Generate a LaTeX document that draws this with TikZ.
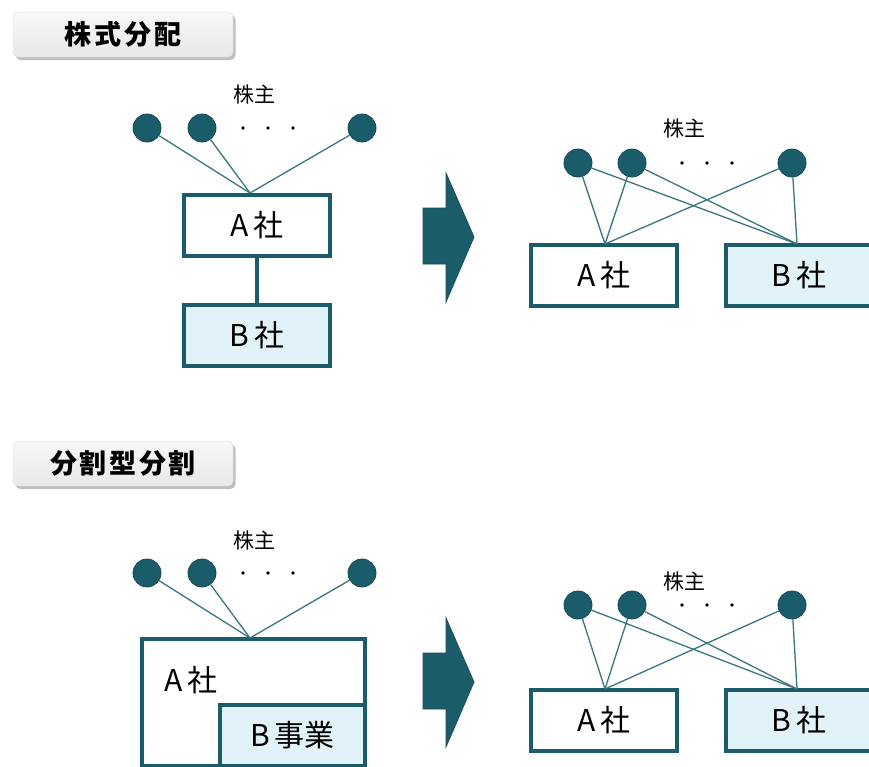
\documentclass[tikz,border=0pt]{standalone}
\usepackage{fontspec}
\setmainfont{Noto Sans CJK JP}
\usetikzlibrary{shadows,calc}
\definecolor{tealdk}{HTML}{1B5C6B}
\definecolor{tealln}{HTML}{3C7582}
\definecolor{lblue}{HTML}{E1F2F8}
\newcommand{\gp}{\hspace{5pt}}
\begin{document}
\begin{tikzpicture}[x=1pt,y=-1pt,
  holder/.style={circle, fill=tealdk, draw=tealdk!80!black, line width=0.8pt, minimum size=28pt, inner sep=0pt},
  dotm/.style={circle, fill=black, minimum size=3.8pt, inner sep=0pt},
  cobox/.style={draw=tealdk, line width=4pt, fill=white, minimum width=146pt, minimum height=61pt, inner sep=0pt, font=\fontsize{30}{31}\selectfont},
  subbox/.style={cobox, fill=lblue},
  link/.style={draw=tealln, line width=1.3pt},
  bond/.style={draw=tealdk, line width=4pt},
  hold/.style={font=\fontsize{21}{23}\selectfont, inner sep=0pt},
  ttl/.style={rectangle, rounded corners=5pt, top color=white!97!black, bottom color=white!91!black, draw=white!88!black, line width=0.4pt,
    drop shadow={shadow xshift=2.5pt, shadow yshift=-3pt, fill=black!45, opacity=0.55},
    minimum width=220pt, minimum height=45pt, inner sep=0pt,
    font=\fontsize{27}{28}\selectfont\bfseries\addfontfeature{LetterSpace=10}},
  bigarrow/.style={fill=tealdk, draw=tealdk!85!black, line width=0.8pt, line join=miter}
]
\useasboundingbox (0,0) rectangle (869,766);
\clip (0,0) rectangle (869,766);
\fill[white] (0,0) rectangle (869,766);

% ---------- titles ----------
\node[ttl] (t1) at (123,34.5) {株式分配};
\node[ttl] (t2) at (123,463.5) {分割型分割};

% ---------- arrows ----------
\path[bigarrow] (423,208) -- (446,208) -- (446,173) -- (474,237) -- (446,302) -- (446,264) -- (423,264) -- cycle;
\path[bigarrow] (423,653) -- (446,653) -- (446,618) -- (474,682) -- (446,747) -- (446,709) -- (423,709) -- cycle;

% ---------- top left ----------
\node[hold] (k1) at (254,95) {株主};
\node[holder] (h11) at (147,128) {};
\node[holder] (h12) at (202,128) {};
\node[holder] (h13) at (362,128) {};
\node[dotm] (d11) at (243,128) {};
\node[dotm] (d12) at (268,128) {};
\node[dotm] (d13) at (293,128) {};
\node[cobox] (A1) at (257,225) {A\gp 社};
\node[subbox] (B1) at (257,335) {B\gp 社};
\coordinate (c1) at (250,193);
\draw[link] (h11) -- (c1);
\draw[link] (h12) -- (c1);
\draw[link] (h13) -- (c1);
\draw[bond] (A1.south) -- (B1.north);

% ---------- top right ----------
\node[hold] (k2) at (684,129) {株主};
\node[holder] (h21) at (578,163) {};
\node[holder] (h22) at (632,163) {};
\node[holder] (h23) at (792,163) {};
\node[dotm] (d21) at (682,163) {};
\node[dotm] (d22) at (707,163) {};
\node[dotm] (d23) at (732,163) {};
\node[cobox] (A2) at (604,275.5) {A\gp 社};
\node[subbox] (B2) at (799,275.5) {B\gp 社};
\coordinate (ca2) at (605,244);
\coordinate (cb2) at (797,244);
\foreach \h in {h21,h22,h23}{
  \draw[link] (\h) -- (ca2);
  \draw[link] (\h) -- (cb2);
}

% ---------- bottom left ----------
\node[hold] (k3) at (254,540) {株主};
\node[holder] (h31) at (147,573) {};
\node[holder] (h32) at (202,573) {};
\node[holder] (h33) at (362,573) {};
\node[dotm] (d31) at (243,573) {};
\node[dotm] (d32) at (268,573) {};
\node[dotm] (d33) at (293,573) {};
\node[cobox, minimum width=223pt, minimum height=127pt] (A3) at (253.5,702.5) {};
\node[font=\fontsize{30}{31}\selectfont, inner sep=0pt] (A3t) at (191,680) {A\gp 社};
\node[subbox, minimum width=145pt, minimum height=61pt] (B3) at (292.5,735.5) {B\gp 事業};
\coordinate (c3) at (250,638);
\draw[link] (h31) -- (c3);
\draw[link] (h32) -- (c3);
\draw[link] (h33) -- (c3);

% ---------- bottom right ----------
\node[hold] (k4) at (684,581) {株主};
\node[holder] (h41) at (578,605) {};
\node[holder] (h42) at (632,605) {};
\node[holder] (h43) at (792,605) {};
\node[dotm] (d41) at (682,605) {};
\node[dotm] (d42) at (707,605) {};
\node[dotm] (d43) at (732,605) {};
\node[cobox] (A4) at (604,720) {A\gp 社};
\node[subbox] (B4) at (799,720) {B\gp 社};
\coordinate (ca4) at (605,689);
\coordinate (cb4) at (797,689);
\foreach \h in {h41,h42,h43}{
  \draw[link] (\h) -- (ca4);
  \draw[link] (\h) -- (cb4);
}
\end{tikzpicture}
\end{document}
